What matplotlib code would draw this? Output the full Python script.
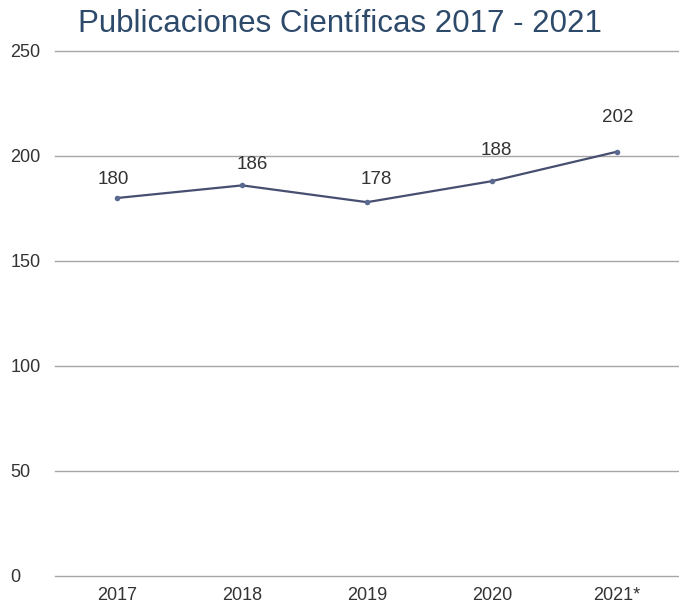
import matplotlib.pyplot as plt

years = ["2017", "2018", "2019", "2020", "2021*"]
publicaciones = [180, 186, 178, 188, 202]

# label offsets in points (dx, dy), as placed in the original
label_offsets = [(-3, 13), (7, 15), (7, 16), (3, 22), (1, 25)]

plt.rcParams["font.family"] = ["Liberation Sans", "DejaVu Sans"]

fig = plt.figure(figsize=(6.79, 6.04), dpi=100)
ax = fig.add_axes([0.081, 0.0464, 0.919, 0.8692])

x = list(range(len(years)))
ax.plot(x, publicaciones, color="#474f70", linewidth=1.6, marker="o",
        markersize=4, markerfacecolor="#5a6a90", markeredgewidth=0, zorder=3)

for xi, val, (dx, dy) in zip(x, publicaciones, label_offsets):
    ax.annotate(str(val), (xi, val), xytext=(dx, dy), textcoords="offset points",
                ha="center", va="center", fontsize=13.5, color="#333333")

ax.set_xlim(-0.5, len(years) - 0.5)
ax.set_ylim(0, 250)
ax.set_yticks([0, 50, 100, 150, 200, 250])
ax.set_xticks(x)
ax.set_xticklabels(years)

ax.grid(axis="y", color="#a6a6a6", linewidth=1)
for gl in ax.get_ygridlines():
    gl.set_clip_on(False)
ax.set_axisbelow(True)
for s in ax.spines.values():
    s.set_visible(False)
ax.tick_params(axis="both", length=0, labelsize=13, labelcolor="#333333")
ax.tick_params(axis="x", pad=8)
for lbl in ax.get_yticklabels():
    lbl.set_horizontalalignment("left")
ax.tick_params(axis="y", pad=32)

fig.text(0.5, 0.96, "Publicaciones Científicas 2017 - 2021", ha="center", va="center",
         fontsize=22.5, color="#2d4a6b")

fig.savefig("out.png", dpi=100)
